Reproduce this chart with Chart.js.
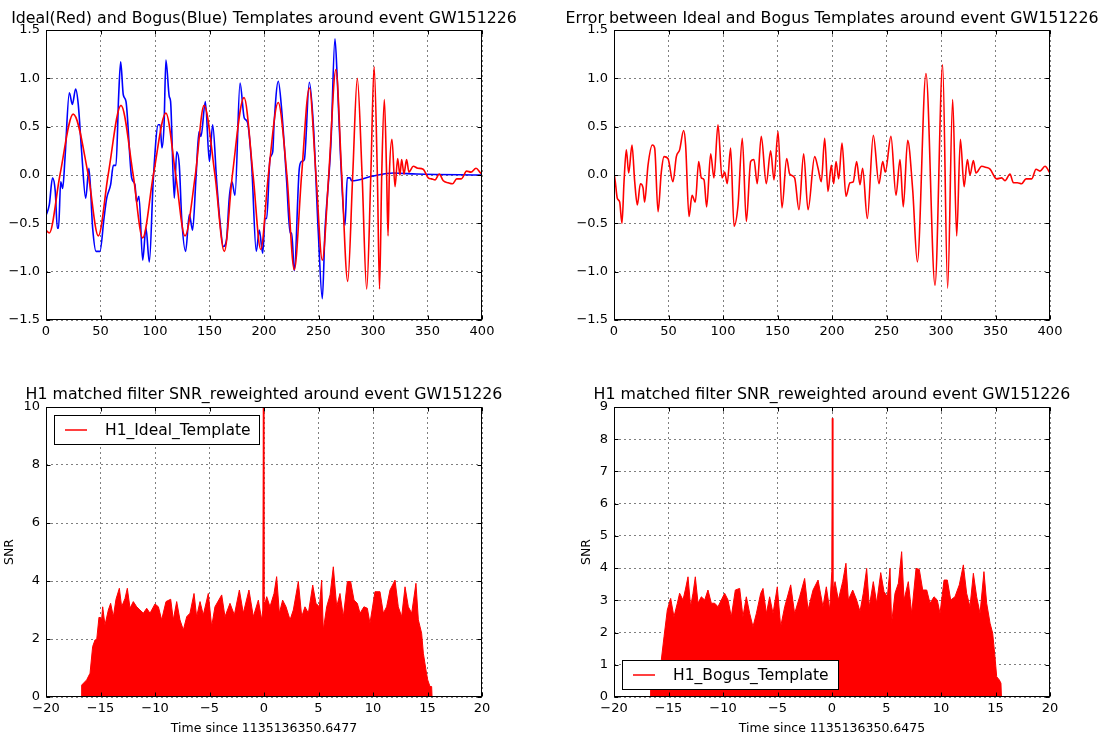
<!DOCTYPE html>
<html>
<head>
<meta charset="utf-8">
<script src="https://cdn.jsdelivr.net/npm/chart.js@4.4.1/dist/chart.umd.min.js"></script>
<style>
  html, body { margin: 0; padding: 0; background: #fff; }
  #wrap { position: relative; width: 1107px; height: 738px; overflow: hidden; background: #fff; }
  #wrap canvas { position: absolute; }
</style>
</head>
<body>
<div id="wrap">
  <canvas id="tmpl" width="553" height="369" style="left:0px;top:0px"></canvas>
  <canvas id="diff" width="553" height="369" style="left:554px;top:0px"></canvas>
  <canvas id="snrIdeal" width="553" height="369" style="left:0px;top:369px"></canvas>
  <canvas id="snrBogus" width="553" height="369" style="left:554px;top:369px"></canvas>
</div>
<script>
// ---- waveform samples (sample index, strain in arbitrary units) ----
const idealTime = [0,3,12.8,25,38.8,48,57,68.8,80,88.7,98.5,110,119,127.5,137,145,155,163.6,171,181.7,
  190,197,204,213,221,227.8,234.5,241.6,247.7,253.5,259.4,266,271.3,276.8,281.4,285.6,290,294.2,298,301,
  304,306,308,310.4,312.5,313.8,315,317.4,320.2,322.6,324.7,326.3,328.4,330.8,333,337,341,346,350.7,353.7,
  357,360.8,364.5,369,373,376.8,381,385.9,389.9,394.5,398.8,400];
const idealStrain = [-0.57,-0.6,0,0.63,0,-0.63,0,0.72,0,-0.65,0,0.64,0,-0.63,0,0.72,0,-0.79,0,0.8,
  0,-0.77,0,0.75,0,-0.98,0,0.9,0,-0.88,0,1.09,0,-1.1,0,1.0,0,-1.18,0,1.12,
  0,-1.18,0,0.78,0,-0.63,0,0.37,-0.12,0.17,0,0.16,0.01,0.16,0.03,0.09,0.07,0.06,-0.03,-0.04,
  -0.05,0.01,-0.06,-0.08,-0.09,-0.04,-0.04,0.04,0.03,0.07,0.02,0.01];

const bogusTime = [0,3,6,8.5,10.4,11.5,13.5,15.3,17.4,21.4,
  24.2,27.2,29.6,32.7,36.4,39.4,42.8,45.9,49.5,53.2,
  55.7,59.3,61.8,64.2,66.7,68.5,70.9,73.4,78.6,81.6,
  83.1,85.3,88.7,91.7,94.8,98.5,103,104.6,106.4,108.3,
  110,113.1,114.3,117.7,119.9,122.3,124.5,128.1,131.5,134.5,
  137.6,140.4,142.2,146.2,149.9,152.9,156.6,159.6,162.7,165.7,
  168.1,170.6,173.4,178,181.9,184.7,188.7,192.9,195.7,198.8,
  201,202.5,205.5,208,209.2,213.1,216.1,220.8,223.9,225.4,
  227.8,232.4,234.5,237,241.6,245.3,249.8,253.5,255.9,259.6,
  261.5,265.1,267.3,270.3,274.3,276.4,278.9,280.4,300,318.7,
  340,400];
const bogusStrain = [-0.42,-0.31,-0.03,-0.17,-0.55,-0.55,-0.07,-0.14,0.17,0.85,
  0.73,0.89,0.73,0.24,-0.24,0.07,-0.55,-0.79,-0.79,-0.45,
  -0.24,-0.1,0.1,0.1,0.83,1.17,0.83,0.76,-0.03,-0.1,
  -0.28,-0.22,-0.88,-0.55,-0.9,-0.03,0.52,0.52,0.28,0.52,
  1.19,0.81,0.76,-0.24,0.24,0.1,-0.45,-0.79,-0.41,-0.57,
  -0.03,0.45,0.4,0.76,0.14,0.52,-0.07,-0.48,-0.74,-0.66,
  -0.24,-0.07,-0.21,0.95,0.59,0.55,0.1,-0.79,-0.57,-0.81,
  -0.45,-0.45,0.17,0.24,0.52,0.97,0.69,-0.07,-0.6,-0.6,
  -0.99,0.07,0.14,0.16,0.96,0.52,-0.59,-1.28,-0.59,0,
  0.35,1.41,0.97,0.17,-0.52,-0.03,-0.03,-0.06,-0.01,0.02,
  0.01,0];

const errorTime = [0,1.2,3,5.2,7.3,9.2,11.3,13.5,16.5,19,
  21.4,24.2,26.6,28.1,31.2,35.2,37.3,40.4,43.4,45.9,
  49.5,54.1,57.2,60.2,63.9,65.7,68.8,71.6,74.6,77.7,
  80.1,82.6,85,88.7,91.7,95.4,99.1,101.5,103.9,107,
  110.1,113.8,117.7,121.4,125.4,128.4,131.4,135.1,139.7,143.7,
  146.8,150.5,154.1,158.4,161.2,165.7,169.7,174,178,184.1,
  187.2,190.2,193.3,196.3,199.4,201.5,203.7,206.1,209.2,212.8,
  216.5,219.5,222.6,225.7,228.1,232.4,237.9,243.1,246.5,248.9,
  254.1,258.7,262.4,265.4,269.4,274,278.3,286.2,294.5,301.5,
  306.1,310.7,314.4,317.8,321.2,324.2,326.6,329.7,332.1,337.3,
  341,345,351.1,355.7,358.7,363.3,366.4,370,374,378,
  383.2,387.2,390.8,395.4,400];
const errorStrain = [0.02,-0.07,-0.24,-0.28,-0.5,-0.07,0.26,0.02,0.31,-0.07,
  -0.31,-0.09,-0.13,-0.28,0.1,0.31,0.28,-0.38,0.03,0.19,
  0.17,-0.07,0.19,0.26,0.46,0.31,-0.43,-0.21,-0.28,0.14,
  -0.03,-0.05,-0.33,0.22,-0.03,0.52,-0.03,0.03,-0.09,0.28,
  -0.53,-0.31,0.38,-0.48,0.14,0.16,-0.09,0.4,-0.09,0.25,
  -0.05,0.45,-0.34,0.17,0.01,-0.03,-0.36,0.22,-0.36,0.19,
  0.07,-0.07,0.38,-0.17,0.1,-0.09,0.14,-0.04,0.33,-0.22,
  -0.08,-0.07,0.14,-0.1,0.07,-0.45,0.41,-0.09,0.14,0.03,
  0.4,-0.21,0.16,-0.33,0.36,-0.15,-0.9,1.05,-1.14,1.14,
  -1.17,0.78,-0.63,0.37,-0.12,0.16,0,0.15,0.02,0.09,
  0.08,0.06,-0.04,-0.03,-0.06,0.01,-0.08,-0.08,-0.09,-0.04,
  -0.04,0.06,0.04,0.09,0.02];

// ---- matched-filter SNR (seconds since event, SNR) ----
const snrIdealTime = [-16.76,-16.73,-16.27,-15.96,-15.72,-15.5,-15.35,-15.14,-14.89,-14.8,
  -14.59,-14.28,-14.07,-13.82,-13.58,-13.27,-13.06,-12.75,-12.54,-12.29,
  -11.99,-11.68,-11.38,-11.07,-10.76,-10.46,-10.0,-9.69,-9.39,-8.99,
  -8.56,-8.32,-8.01,-7.71,-7.4,-7.09,-6.79,-6.42,-6.18,-5.87,
  -5.57,-5.11,-4.8,-4.5,-3.88,-3.58,-3.12,-2.72,-2.26,-1.9,
  -1.38,-0.98,-0.52,-0.21,-0.11,-0.06,-0.01,0.09,0.25,0.55,
  0.92,1.16,1.41,1.71,2.02,2.39,2.69,3.15,3.46,3.76,
  4.07,4.47,4.77,5.08,5.29,5.44,5.75,6.06,6.36,6.67,
  6.97,7.28,7.65,7.95,8.26,8.56,8.81,9.17,9.48,9.72,
  10.18,10.64,10.95,11.25,11.56,12.02,12.32,12.63,12.94,13.24,
  13.55,13.94,14.16,14.46,14.62,14.86,15.02,15.23,15.38,15.42];
const snrIdealValue = [0,0.41,0.59,0.82,1.74,1.97,1.97,2.75,2.71,3.11,
  2.48,3.0,3.23,2.77,3.37,3.75,3.11,3.4,3.75,3.06,
  3.29,3.11,3.0,2.89,3.06,2.89,3.21,3.11,2.66,3.29,
  3.37,2.66,3.29,2.66,2.31,2.77,2.89,3.57,2.77,3.29,
  2.83,3.57,2.43,3.11,3.52,2.77,3.23,2.83,3.69,2.89,
  3.69,2.77,3.34,2.66,3.0,10,3.3,3.23,3.46,3.11,
  3.57,4.15,2.89,3.34,3.11,2.66,3.0,3.98,2.77,3.11,
  2.89,3.86,3.23,3.11,4.03,2.31,3.11,3.52,4.49,3.11,
  3.57,2.77,3.98,3.98,3.34,3.23,2.89,3.11,3.06,2.54,
  3.63,3.63,2.89,3.11,3.69,4.03,3.11,2.77,3.8,3.11,
  2.89,3.92,2.66,2.2,1.51,0.93,0.59,0.36,0.36,0];

const snrBogusTime = [-16.68,-16.64,-16.3,-16.0,-15.66,-15.41,-15.11,-14.8,-14.5,-14.19,
  -13.98,-13.67,-13.46,-13.21,-12.97,-12.75,-12.54,-12.29,-11.99,-11.68,
  -11.38,-11.07,-10.76,-10.46,-9.85,-9.54,-9.24,-8.87,-8.47,-8.17,
  -7.86,-7.55,-7.25,-6.94,-6.54,-6.33,-6.02,-5.72,-5.41,-5.02,
  -4.71,-4.34,-3.79,-3.43,-2.97,-2.51,-2.2,-1.74,-1.28,-0.83,
  -0.52,-0.21,-0.02,0.03,0.08,0.28,0.58,0.98,1.28,1.5,
  1.9,2.26,2.57,2.87,3.18,3.42,3.79,4.1,4.47,4.77,
  5.08,5.32,5.47,5.78,6.09,6.39,6.61,7.0,7.31,7.71,
  8.01,8.32,8.69,8.99,9.36,9.66,9.91,10.28,10.58,10.89,
  11.28,11.68,12.05,12.35,12.66,12.97,13.27,13.58,13.94,14.19,
  14.5,14.74,14.95,15.11,15.35,15.5,15.55];
const snrBogusValue = [0,0.4,0.6,0.9,1.15,1.87,2.7,3.06,2.49,2.91,
  3.22,3.01,3.32,3.73,2.8,3.22,3.73,2.91,3.11,3.01,
  3.32,2.91,2.91,2.8,3.22,3.01,2.49,3.32,3.37,2.49,
  3.11,2.59,2.18,2.59,3.22,3.37,2.59,3.11,2.59,3.42,
  2.18,2.8,3.48,2.59,3.11,3.68,2.7,3.32,3.63,2.8,
  3.42,2.7,3.89,8.65,3.3,3.58,3.01,3.58,4.15,3.01,
  3.32,3.01,2.65,3.22,3.99,2.8,3.58,2.91,3.86,3.27,
  3.11,3.99,2.29,3.22,3.53,4.51,3.01,3.58,2.59,3.99,
  3.96,3.32,3.32,2.91,3.11,3.01,2.59,3.63,3.63,3.01,
  3.11,3.48,4.1,3.22,2.8,3.84,3.11,2.59,3.89,2.91,
  2.29,1.98,1.25,0.63,0.53,0.43,0];

// ---- axis ticks ----
const waveXTicks = [0,50,100,150,200,250,300,350,400];
const waveYTicks = [-1.5,-1.0,-0.5,0.0,0.5,1.0,1.5];
const snrXTicks = [-20,-15,-10,-5,0,5,10,15,20];
const snrIdealYTicks = [0,2,4,6,8,10];
const snrBogusYTicks = [0,1,2,3,4,5,6,7,8,9];

// ---- text ----
const titles = [
  'Ideal(Red) and Bogus(Blue) Templates around event GW151226',
  'Error between Ideal and Bogus Templates around event GW151226',
  'H1 matched filter SNR_reweighted around event GW151226',
  'H1 matched filter SNR_reweighted around event GW151226'
];
const timeLabels = ['Time since 1135136350.6477', 'Time since 1135136350.6475'];
const legendLabels = ['H1_Ideal_Template', 'H1_Bogus_Template'];

const FONT = '"DejaVu Sans", "Liberation Sans", sans-serif';
const RED = '#ff0000';
const BLUE = '#0000ff';

const pairs = (xs, ys) => xs.map((x, i) => ({ x: x, y: ys[i] }));
const minusSign = s => String(s).replace('-', '\u2212');

// Box frame plus inward tick marks on all four sides
const framePlugin = {
  id: 'frameTicks',
  afterDraw(chart) {
    const { ctx, chartArea: a, scales } = chart;
    const L = Math.round(a.left) + 0.5, R = Math.round(a.right) - 0.5;
    const T = Math.round(a.top) + 0.5, B = Math.round(a.bottom) - 0.5;
    ctx.save();
    ctx.strokeStyle = '#000';
    ctx.lineWidth = 1;
    ctx.beginPath();
    scales.x.ticks.forEach(t => {
      const px = Math.round(scales.x.getPixelForValue(t.value)) + 0.5;
      ctx.moveTo(px, B); ctx.lineTo(px, B - 4);
      ctx.moveTo(px, T); ctx.lineTo(px, T + 4);
    });
    scales.y.ticks.forEach(t => {
      const py = Math.round(scales.y.getPixelForValue(t.value)) + 0.5;
      ctx.moveTo(L, py); ctx.lineTo(L + 4, py);
      ctx.moveTo(R, py); ctx.lineTo(R - 4, py);
    });
    ctx.stroke();
    ctx.strokeRect(L, T, R - L, B - T);
    ctx.restore();
  }
};

// Plot title centred over the plot area, free to run wider than it
const plotTitlePlugin = {
  id: 'plotTitle',
  afterDraw(chart, args, opts) {
    if (!opts || !opts.text) return;
    const { ctx, chartArea: a } = chart;
    ctx.save();
    ctx.font = opts.size + 'px ' + FONT;
    ctx.fillStyle = '#000';
    ctx.textAlign = 'center';
    ctx.textBaseline = 'middle';
    ctx.fillText(opts.text, (a.left + a.right) / 2, opts.y);
    ctx.restore();
  }
};

// Framed legend with a line sample, drawn inside the plot area
const boxLegendPlugin = {
  id: 'boxLegend',
  afterDraw(chart, args, opts) {
    if (!opts || !opts.display) return;
    const { ctx, chartArea: a } = chart;
    const ds = chart.data.datasets[0];
    ctx.save();
    ctx.font = '15.5px ' + FONT;
    const tw = ctx.measureText(ds.label).width;
    const w = Math.round(11 + 22 + 18 + tw + 9), h = 29;
    const x0 = Math.round(a.left) + 8;
    const y0 = opts.corner === 'top' ? Math.round(a.top) + 8 : Math.round(a.bottom) - 8 - h;
    ctx.fillStyle = '#fff';
    ctx.fillRect(x0, y0, w, h);
    ctx.strokeStyle = '#000';
    ctx.lineWidth = 1;
    ctx.strokeRect(x0 + 0.5, y0 + 0.5, w, h);
    ctx.strokeStyle = ds.borderColor;
    ctx.lineWidth = 1.5;
    ctx.beginPath();
    ctx.moveTo(x0 + 11, y0 + h / 2 + 0.5);
    ctx.lineTo(x0 + 33, y0 + h / 2 + 0.5);
    ctx.stroke();
    ctx.fillStyle = '#000';
    ctx.textBaseline = 'middle';
    ctx.textAlign = 'left';
    ctx.fillText(ds.label, x0 + 51, y0 + h / 2 + 1);
    ctx.restore();
  }
};

function axis(cfg) {
  return {
    type: 'linear',
    min: cfg.min,
    max: cfg.max,
    afterBuildTicks: s => { s.ticks = cfg.ticks.map(v => ({ value: v })); },
    afterFit: s => { if (cfg.horizontal) s.height = cfg.size; else s.width = cfg.size; },
    grid: { color: 'rgba(0,0,0,0.5)', lineWidth: 1, drawTicks: false },
    border: { display: false, dash: [2, 3] },
    ticks: {
      color: '#000',
      font: { family: FONT, size: 13 },
      padding: cfg.padding,
      autoSkip: false,
      maxRotation: 0,
      callback: cfg.format
    },
    title: cfg.title ? {
      display: true,
      text: cfg.title,
      color: '#000',
      font: { family: FONT, size: 12.5 },
      padding: cfg.titlePadding
    } : { display: false }
  };
}

function makeChart(id, opts) {
  return new Chart(document.getElementById(id), {
    type: 'line',
    data: { datasets: opts.datasets },
    options: {
      responsive: false,
      animation: false,
      events: [],
      layout: { padding: { left: 0, right: opts.padRight, top: opts.padTop, bottom: 0 } },
      elements: { point: { radius: 0 } },
      plugins: {
        legend: { display: false },
        tooltip: { enabled: false },
        title: { display: false },
        plotTitle: { text: opts.title, size: 15.8, y: opts.titleY },
        boxLegend: opts.legend || { display: false }
      },
      scales: { x: opts.x, y: opts.y }
    },
    plugins: [framePlugin, plotTitlePlugin, boxLegendPlugin]
  });
}

const waveFmtY = v => minusSign(Number(v).toFixed(1));
const plainFmt = v => minusSign(v);

// Top left: ideal and bogus templates
makeChart('tmpl', {
  title: titles[0], titleY: 19, padTop: 30, padRight: 71,
  datasets: [
    { label: 'Ideal', data: pairs(idealTime, idealStrain), borderColor: RED, borderWidth: 1.6,
      cubicInterpolationMode: 'monotone', fill: false },
    { label: 'Bogus', data: pairs(bogusTime, bogusStrain), borderColor: BLUE, borderWidth: 1.6,
      cubicInterpolationMode: 'monotone', fill: false }
  ],
  x: axis({ horizontal: true, size: 49, min: 0, max: 400, ticks: waveXTicks, padding: 4, format: plainFmt }),
  y: axis({ size: 46, min: -1.5, max: 1.5, ticks: waveYTicks, padding: 6, format: waveFmtY })
});

// Top right: difference between the two templates
makeChart('diff', {
  title: titles[1], titleY: 19, padTop: 30, padRight: 57,
  datasets: [
    { label: 'Error', data: pairs(errorTime, errorStrain), borderColor: RED, borderWidth: 1.6,
      cubicInterpolationMode: 'monotone', fill: false }
  ],
  x: axis({ horizontal: true, size: 49, min: 0, max: 400, ticks: waveXTicks, padding: 4, format: plainFmt }),
  y: axis({ size: 60, min: -1.5, max: 1.5, ticks: waveYTicks, padding: 6, format: waveFmtY })
});

// Bottom left: SNR with the ideal template
makeChart('snrIdeal', {
  title: titles[2], titleY: 26, padTop: 38, padRight: 71,
  legend: { display: true, corner: 'top' },
  datasets: [
    { label: legendLabels[0], data: pairs(snrIdealTime, snrIdealValue), borderColor: RED,
      backgroundColor: RED, borderWidth: 1, fill: 'origin', tension: 0 }
  ],
  x: axis({ horizontal: true, size: 41, min: -20, max: 20, ticks: snrXTicks, padding: 4, format: plainFmt,
            title: timeLabels[0], titlePadding: { top: 0, bottom: 1.5 } }),
  y: axis({ size: 46, min: 0, max: 10, ticks: snrIdealYTicks, padding: 6, format: plainFmt,
            title: 'SNR', titlePadding: { top: 2.5, bottom: 0 } })
});

// Bottom right: SNR with the bogus template
makeChart('snrBogus', {
  title: titles[3], titleY: 26, padTop: 38, padRight: 57,
  legend: { display: true, corner: 'bottom' },
  datasets: [
    { label: legendLabels[1], data: pairs(snrBogusTime, snrBogusValue), borderColor: RED,
      backgroundColor: RED, borderWidth: 1, fill: 'origin', tension: 0 }
  ],
  x: axis({ horizontal: true, size: 41, min: -20, max: 20, ticks: snrXTicks, padding: 4, format: plainFmt,
            title: timeLabels[1], titlePadding: { top: 0, bottom: 1.5 } }),
  y: axis({ size: 60, min: 0, max: 9, ticks: snrBogusYTicks, padding: 6, format: plainFmt,
            title: 'SNR', titlePadding: { top: 25.5, bottom: 0 } })
});
</script>
</body>
</html>
